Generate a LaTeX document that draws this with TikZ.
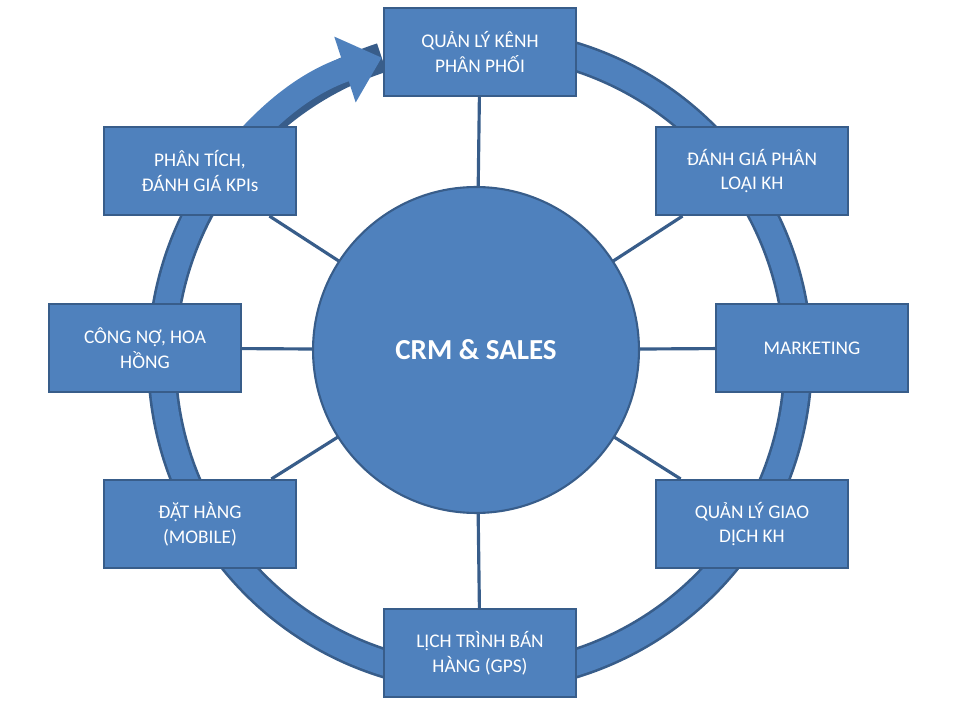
\documentclass[tikz,border=0pt]{standalone}
\usepackage{fontspec}
\setmainfont{Carlito}
\usetikzlibrary{arrows.meta}
\definecolor{boxblue}{HTML}{4F81BD}
\definecolor{edgeblue}{HTML}{385D8A}
\tikzset{
  box/.style={draw=edgeblue, line width=1.2pt, fill=boxblue, text=white,
    minimum width=3.84cm, minimum height=1.76cm, align=center, font=\fontsize{11}{14}\selectfont},
  link/.style={edgeblue, line width=1.8pt},
}
\begin{document}
\begin{tikzpicture}[x=0.02cm,y=0.02cm]
  \useasboundingbox (0,0) rectangle (960,720);

  % ring with arrow
  \draw[edgeblue, line width=17pt] (480,360) ++(75:6.36cm) arc[start angle=75, end angle=-252, radius=6.36cm];
  \draw[boxblue, line width=14pt, -{Triangle[length=22pt,width=38pt]}] (480,360) ++(75:6.36cm) arc[start angle=75, end angle=-252, radius=6.36cm];

  \node[box] (kenh) at (480,668) {QUẢN LÝ KÊNH\\PHÂN PHỐI};
  \node[box] (danhgia) at (752,549) {ĐÁNH GIÁ PHÂN\\LOẠI KH};
  \node[box] (mkt) at (812,372) {MARKETING};
  \node[box] (giaodich) at (752,196) {QUẢN LÝ GIAO\\DỊCH KH};
  \node[box] (lichtrinh) at (480,67) {LỊCH TRÌNH BÁN\\HÀNG (GPS)};
  \node[box] (dathang) at (200,196) {ĐẶT HÀNG\\(MOBILE)};
  \node[box] (congno) at (145,372) {CÔNG NỢ, HOA\\HỒNG};
  \node[box] (kpi) at (200,549) {PHÂN TÍCH,\\ĐÁNH GIÁ KPIs};

  \coordinate (c) at (476,370);
  \foreach \b in {kenh,danhgia,mkt,giaodich,lichtrinh,dathang,congno,kpi}
    \draw[link] (c) -- (\b);

  \node[circle, draw=edgeblue, line width=1.2pt, fill=boxblue, text=white,
    minimum size=6.52cm, font=\fontsize{16.5}{20}\selectfont\bfseries] (crm) at (c) {CRM \& SALES};
\end{tikzpicture}
\end{document}
